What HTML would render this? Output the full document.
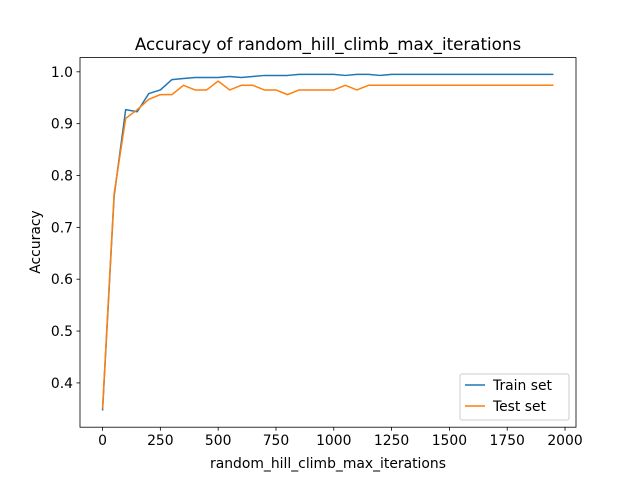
<!DOCTYPE html>
<html><head><meta charset="utf-8"><style>
body{margin:0;background:#fff;}
svg{display:block;font-family:"DejaVu Sans","Liberation Sans",sans-serif;}
</style></head><body>
<svg id="chart" width="640" height="480"></svg>
<script>
const xs = [];
for (let i = 0; i < 40; i++) xs.push(i * 50);
const trainVals = [0.347,0.76,0.927,0.923,0.958,0.965,0.985,0.987,0.989,0.989,0.989,0.991,0.989,0.991,0.993,0.993,0.993,0.995,0.995,0.995,0.995,0.993,0.995,0.995,0.993,0.995,0.995,0.995,0.995,0.995,0.995,0.995,0.995,0.995,0.995,0.995,0.995,0.995,0.995,0.995];
const testVals = [0.35,0.765,0.91,0.927,0.947,0.956,0.956,0.974,0.965,0.965,0.982,0.965,0.974,0.974,0.965,0.965,0.956,0.965,0.965,0.965,0.965,0.974,0.965,0.974,0.974,0.974,0.974,0.974,0.974,0.974,0.974,0.974,0.974,0.974,0.974,0.974,0.974,0.974,0.974,0.974];
const xTicks = [0,250,500,750,1000,1250,1500,1750,2000];
const yTicks = [0.4,0.5,0.6,0.7,0.8,0.9,1.0];

const L=80,R=576,T=57.6,B=427.2;
const NS="http://www.w3.org/2000/svg";
const svg=document.getElementById('chart');
function mk(tag,attrs,parent){const e=document.createElementNS(NS,tag);for(const k in attrs)e.setAttribute(k,attrs[k]);(parent||svg).appendChild(e);return e;}
const xmin=Math.min(...xs),xmax=Math.max(...xs),xm=(xmax-xmin)*0.05;
const all=trainVals.concat(testVals);
const ymin=Math.min(...all),ymax=Math.max(...all),ym=(ymax-ymin)*0.05;
const sx=v=>L+(v-(xmin-xm))/((xmax+xm)-(xmin-xm))*(R-L);
const sy=v=>B-(v-(ymin-ym))/((ymax+ym)-(ymin-ym))*(B-T);

function line(vals,color,name){
  const p=mk('polyline',{points:vals.map((v,i)=>sx(xs[i]).toFixed(2)+','+sy(v).toFixed(2)).join(' '),fill:'none',stroke:color,'stroke-width':1.5,'stroke-linejoin':'round'});
  
  
}
line(trainVals,'#1f77b4','train-set-line');
line(testVals,'#ff7f0e','test-set-line');

xTicks.forEach(t=>{const x=sx(t);
  const l=mk('line',{x1:x,x2:x,y1:B,y2:B+3.5,stroke:'#000','stroke-width':0.8});
  
  
  const tx=mk('text',{x:x,y:B+18,'text-anchor':'middle','font-size':13.9});tx.textContent=t;
  
  
});
yTicks.forEach(t=>{const y=sy(t);
  const l=mk('line',{x1:L-3.5,x2:L,y1:y,y2:y,stroke:'#000','stroke-width':0.8});
  
  
  const tx=mk('text',{x:L-7,y:y+5,'text-anchor':'end','font-size':13.9});tx.textContent=t.toFixed(1);
  
  
});
const fr=mk('rect',{x:L,y:T,width:R-L,height:B-T,fill:'none',stroke:'#000','stroke-width':0.8});


</script>
<script>
(function(){
const NS="http://www.w3.org/2000/svg",svg=document.getElementById('chart');
function t(x,y,s,txt,extra){const e=document.createElementNS(NS,'text');e.setAttribute('x',x);e.setAttribute('y',y);e.setAttribute('font-size',s);e.setAttribute('text-anchor','middle');if(extra)e.setAttribute('transform',extra);e.textContent=txt;svg.appendChild(e);return e;}
let e=t(328,50,16.7,'Accuracy of random_hill_climb_max_iterations');


e=t(328,468,13.9,'random_hill_climb_max_iterations');


e=t(40,242,13.9,'Accuracy','rotate(-90 40 242)');


const g=document.createElementNS(NS,'g');svg.appendChild(g);


g.innerHTML='<rect x="460" y="374" width="109" height="46" rx="2" fill="#fff" fill-opacity="0.8" stroke="#ccc"/>'+
'<line x1="465" x2="485" y1="385" y2="385" stroke="#1f77b4" stroke-width="1.5"/>'+
'<text x="493" y="390" font-size="13.9">Train set</text>'+
'<line x1="465" x2="485" y1="406" y2="406" stroke="#ff7f0e" stroke-width="1.5"/>'+
'<text x="493" y="411" font-size="13.9">Test set</text>';
})();
</script>
</body></html>
